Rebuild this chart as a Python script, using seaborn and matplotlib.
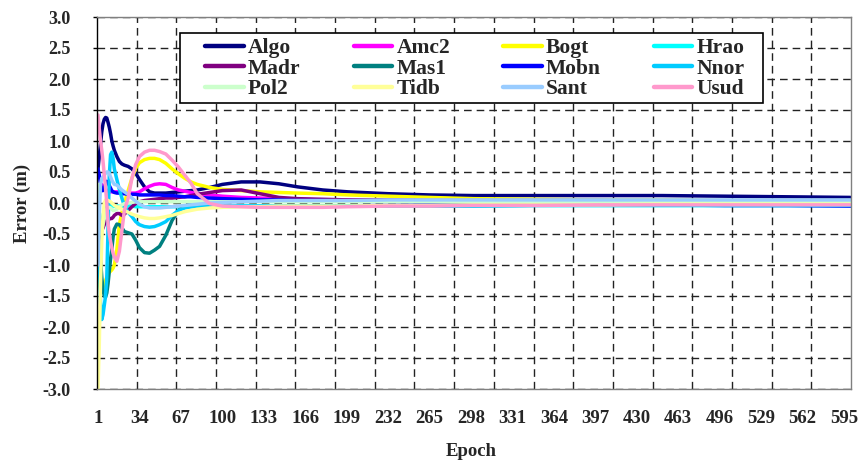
import numpy as np
import pandas as pd
import matplotlib
matplotlib.use("Agg")
import matplotlib.pyplot as plt
from matplotlib.lines import Line2D
from matplotlib.patches import Rectangle
from matplotlib.ticker import FormatStrFormatter
import seaborn as sns

# ---------------------------------------------------------------- data
epochs = [1, 2, 3, 4, 5, 6, 7, 8, 9, 10, 11, 12, 13, 14,
          16, 18, 20, 22,
          25, 28, 31, 34,
          38, 42, 46, 50,
          55, 60, 65, 70, 75, 80,
          90, 100, 115, 130, 145, 160, 180, 200,
          232, 265, 300, 350, 400, 450, 500, 550, 600]

algo = [0.55, 0.75, 0.95, 1.15, 1.28, 1.35, 1.38, 1.37, 1.30, 1.22, 1.12, 1.00, 0.92, 0.85,
        0.75, 0.67, 0.63, 0.61,
        0.59, 0.55, 0.48, 0.38,
        0.26, 0.18, 0.16, 0.16,
        0.16, 0.17, 0.18, 0.19, 0.20, 0.21,
        0.25, 0.30, 0.34, 0.34, 0.31, 0.26, 0.21, 0.18,
        0.15, 0.13, 0.12, 0.12, 0.12, 0.12, 0.11, 0.10, 0.09]
amc2 = [0.20, 0.25, 0.30, 0.30, 0.28, 0.25, 0.22, 0.20, 0.19, 0.18, 0.18, 0.18, 0.18, 0.18,
        0.18, 0.18, 0.17, 0.17,
        0.16, 0.16, 0.16, 0.18,
        0.23, 0.27, 0.30, 0.31,
        0.30, 0.25, 0.21, 0.19, 0.17, 0.15,
        0.13, 0.11, 0.09, 0.08, 0.07, 0.06, 0.05, 0.05,
        0.04, 0.04, 0.03, 0.03, 0.03, 0.03, 0.02, 0.02, 0.02]
bogt = [-0.90, -1.30, -1.40, -1.40, -1.35, -1.30, -1.25, -1.20, -1.15, -1.12, -1.10, -1.08, -1.05, -1.00,
        -0.75, -0.35, -0.15, 0.00,
        0.20, 0.40, 0.56, 0.65,
        0.70, 0.72, 0.72, 0.70,
        0.64, 0.55, 0.47, 0.40, 0.34, 0.30,
        0.25, 0.22, 0.20, 0.18, 0.17, 0.16, 0.15, 0.13,
        0.11, 0.09, 0.07, 0.06, 0.05, 0.05, 0.04, 0.04, 0.04]
hrao = [-0.30, -0.60, -0.45, -0.30, -0.20, -0.12, -0.08, -0.06, -0.05, -0.05, -0.05, -0.05, -0.05, -0.05,
        -0.05, -0.05, -0.05, -0.05,
        -0.05, -0.05, -0.06, -0.06,
        -0.06, -0.06, -0.06, -0.06,
        -0.06, -0.06, -0.06, -0.06, -0.06, -0.06,
        -0.06, -0.06, -0.05, -0.05, -0.05, -0.05, -0.05, -0.05,
        -0.05, -0.05, -0.05, -0.04, -0.04, -0.04, -0.04, -0.04, -0.04]
madr = [0.20, -0.20, -0.40, -0.45, -0.40, -0.35, -0.30, -0.28, -0.27, -0.26, -0.25, -0.25, -0.23, -0.20,
        -0.17, -0.17, -0.20, -0.18,
        -0.12, -0.06, -0.01, 0.02,
        0.04, 0.05, 0.06, 0.07,
        0.08, 0.08, 0.09, 0.10, 0.12, 0.14,
        0.17, 0.20, 0.21, 0.15, 0.09, 0.07, 0.06, 0.05,
        0.05, 0.04, 0.04, 0.04, 0.04, 0.03, 0.03, 0.03, 0.03]
mas1 = [0.10, -0.40, -0.90, -1.20, -1.40, -1.50, -1.52, -1.45, -1.30, -1.10, -0.90, -0.75, -0.55, -0.42,
        -0.34, -0.35, -0.40, -0.46,
        -0.48, -0.50, -0.60, -0.72,
        -0.80, -0.81, -0.76, -0.70,
        -0.52, -0.28, -0.12, -0.05, -0.02, 0.00,
        0.02, 0.03, 0.03, 0.03, 0.03, 0.03, 0.03, 0.03,
        0.03, 0.03, 0.03, 0.03, 0.03, 0.03, 0.03, 0.03, 0.03]
mobn = [0.55, 0.45, 0.30, 0.20, 0.20, 0.25, 0.30, 0.35, 0.33, 0.28, 0.24, 0.20, 0.18, 0.17,
        0.16, 0.16, 0.15, 0.15,
        0.14, 0.14, 0.14, 0.13,
        0.13, 0.13, 0.13, 0.13,
        0.12, 0.12, 0.11, 0.10, 0.10, 0.09,
        0.08, 0.07, 0.06, 0.05, 0.05, 0.04, 0.04, 0.03,
        0.02, 0.01, 0.00, -0.01, -0.02, -0.03, -0.04, -0.04, -0.05]
nnor = [0.20, -0.90, -1.60, -1.88, -1.80, -1.65, -1.50, -1.20, -0.40, 0.45, 0.78, 0.82, 0.72, 0.55,
        0.38, 0.22, 0.08, -0.05,
        -0.15, -0.22, -0.30, -0.35,
        -0.38, -0.39, -0.38, -0.35,
        -0.30, -0.20, -0.12, -0.08, -0.06, -0.05,
        -0.05, -0.05, -0.05, -0.05, -0.05, -0.05, -0.05, -0.05,
        -0.05, -0.05, -0.05, -0.04, -0.04, -0.04, -0.04, -0.04, -0.04]
pol2 = [0.30, -0.30, -0.50, -0.45, -0.35, -0.25, -0.15, -0.10, -0.08, -0.07, -0.08, -0.10, -0.12, -0.12,
        -0.10, -0.06, -0.03, -0.01,
        0.00, 0.01, 0.02, 0.02,
        0.02, 0.02, 0.02, 0.02,
        0.02, 0.02, 0.02, 0.02, 0.02, 0.02,
        0.02, 0.02, 0.02, 0.02, 0.02, 0.02, 0.02, 0.02,
        0.02, 0.02, 0.02, 0.02, 0.02, 0.02, 0.02, 0.02, 0.02]
tidb = [-3.00, -2.30, -1.30, -0.60, -0.20, 0.00, 0.05, 0.05, 0.04, 0.03, 0.02, 0.00, -0.02, -0.04,
        -0.06, -0.08, -0.10, -0.12,
        -0.15, -0.18, -0.20, -0.22,
        -0.24, -0.25, -0.25, -0.24,
        -0.22, -0.20, -0.17, -0.14, -0.12, -0.10,
        -0.08, -0.07, -0.06, -0.06, -0.05, -0.05, -0.05, -0.05,
        -0.04, -0.04, -0.03, -0.03, -0.03, -0.02, -0.02, -0.02, -0.02]
sant = [-1.00, -0.20, 0.30, 0.40, 0.42, 0.45, 0.48, 0.50, 0.50, 0.47, 0.42, 0.37, 0.33, 0.30,
        0.29, 0.25, 0.21, 0.18,
        0.14, 0.08, 0.03, -0.02,
        -0.06, -0.08, -0.08, -0.08,
        -0.07, -0.06, -0.05, -0.04, -0.03, -0.02,
        0.00, 0.01, 0.02, 0.03, 0.04, 0.04, 0.04, 0.04,
        0.05, 0.05, 0.05, 0.05, 0.05, 0.05, 0.05, 0.05, 0.05]
usud = [1.42, 1.20, 1.00, 0.85, 0.67, 0.45, 0.25, 0.00, -0.33, -0.50, -0.62, -0.72, -0.81, -0.87,
        -0.94, -0.78, -0.45, -0.12,
        0.08, 0.40, 0.62, 0.75,
        0.82, 0.85, 0.85, 0.83,
        0.79, 0.69, 0.58, 0.45, 0.32, 0.15,
        -0.01, -0.05, -0.06, -0.07, -0.07, -0.07, -0.07, -0.06,
        -0.05, -0.05, -0.04, -0.04, -0.03, -0.03, -0.03, -0.03, -0.03]

stations = ["Algo", "Amc2", "Bogt", "Hrao", "Madr", "Mas1",
            "Mobn", "Nnor", "Pol2", "Tidb", "Sant", "Usud"]
series = [algo, amc2, bogt, hrao, madr, mas1, mobn, nnor, pol2, tidb, sant, usud]
colors = ["#000080", "#FF00FF", "#FFFF00", "#00FFFF", "#800080", "#008080",
          "#0000FF", "#00CCFF", "#CCFFCC", "#FFFF99", "#99CCFF", "#FF99CC"]
tick_epochs = [1, 34, 67, 100, 133, 166, 199, 232, 265, 298, 331,
               364, 397, 430, 463, 496, 529, 562, 595]

df = pd.concat(
    [pd.DataFrame({"Epoch": epochs, "Error": vals, "Station": name})
     for name, vals in zip(stations, series)],
    ignore_index=True,
)
palette = dict(zip(stations, colors))

# ---------------------------------------------------------------- style
sns.set_theme(style="white")
plt.rcParams["font.family"] = ["Liberation Serif", "DejaVu Serif"]
plt.rcParams["font.weight"] = "bold"
plt.rcParams["axes.unicode_minus"] = False

fig = plt.figure(figsize=(8.58, 4.66), dpi=100)
fig.patch.set_facecolor("white")
W, H = 858, 466
ax = fig.add_axes([97 / W, 1 - 389 / H, 754 / W, 372 / H])

sns.lineplot(data=df, x="Epoch", y="Error", hue="Station", hue_order=stations,
             palette=palette, linewidth=2.5, legend=False, ax=ax,
             estimator=None, sort=False)

x0, x1 = 0.2, 600.5
ax.set_xlim(x0, x1)
ax.set_ylim(-3, 3)

ax.set_xticks(tick_epochs)
ax.set_xticklabels([str(t) for t in tick_epochs])
ax.set_xticks([x0 + k * (x1 - x0) / 19 for k in range(1, 19)], minor=True)
ax.set_yticks(np.arange(-3, 3.01, 0.5))
ax.yaxis.set_major_formatter(FormatStrFormatter("%.1f"))

grid_kw = dict(color="#222222", linewidth=1.0, linestyle=(0, (5.5, 3.6)))
ax.grid(False)
ax.grid(True, which="major", axis="y", **grid_kw)
ax.grid(True, which="minor", axis="x", **grid_kw)

ax.tick_params(axis="x", which="both", length=0, pad=15, labelsize=13.5)
ax.tick_params(axis="y", which="major", length=3, width=1, color="black",
               direction="out", pad=16, labelsize=13)
ax.tick_params(axis="y", left=True)
for lab in ax.get_xticklabels() + ax.get_yticklabels():
    lab.set_fontweight("bold")

for side in ["top", "right", "bottom"]:
    ax.spines[side].set_color("#808080")
    ax.spines[side].set_linewidth(1.0)
ax.spines["left"].set_color("black")
ax.spines["left"].set_linewidth(1.0)

ax.set_xlabel("")
ax.set_ylabel("")
fig.text(471 / W, 1 - 452 / H, "Epoch", ha="center", va="center",
         fontsize=13.5, fontweight="bold")
fig.text(22 / W, 1 - 203 / H, "Error (m)", ha="center", va="center",
         rotation=90, fontsize=13.5, fontweight="bold")

# ---------------------------------------------------------------- legend
box = Rectangle((180 / W, 1 - 103 / H), (763 - 180) / W, (103 - 32.5) / H,
                transform=fig.transFigure, facecolor="white",
                edgecolor="black", linewidth=1.2, zorder=3)
fig.add_artist(box)

handles = [Line2D([], [], color=c, linewidth=3.2) for c in colors]
ncol, nrow = 4, 3
order = [r * ncol + c for c in range(ncol) for r in range(nrow)]
leg = fig.legend([handles[i] for i in order], [stations[i] for i in order],
                 ncol=ncol, loc="center",
                 bbox_to_anchor=(475 / W, 1 - 68.5 / H),
                 frameon=False, prop={"size": 15.5, "weight": "bold"},
                 handlelength=1.8, handletextpad=0.2, columnspacing=2.45,
                 labelspacing=0.02, borderpad=0)
leg.set_zorder(4)

fig.savefig("out.png", dpi=100, facecolor="white")
